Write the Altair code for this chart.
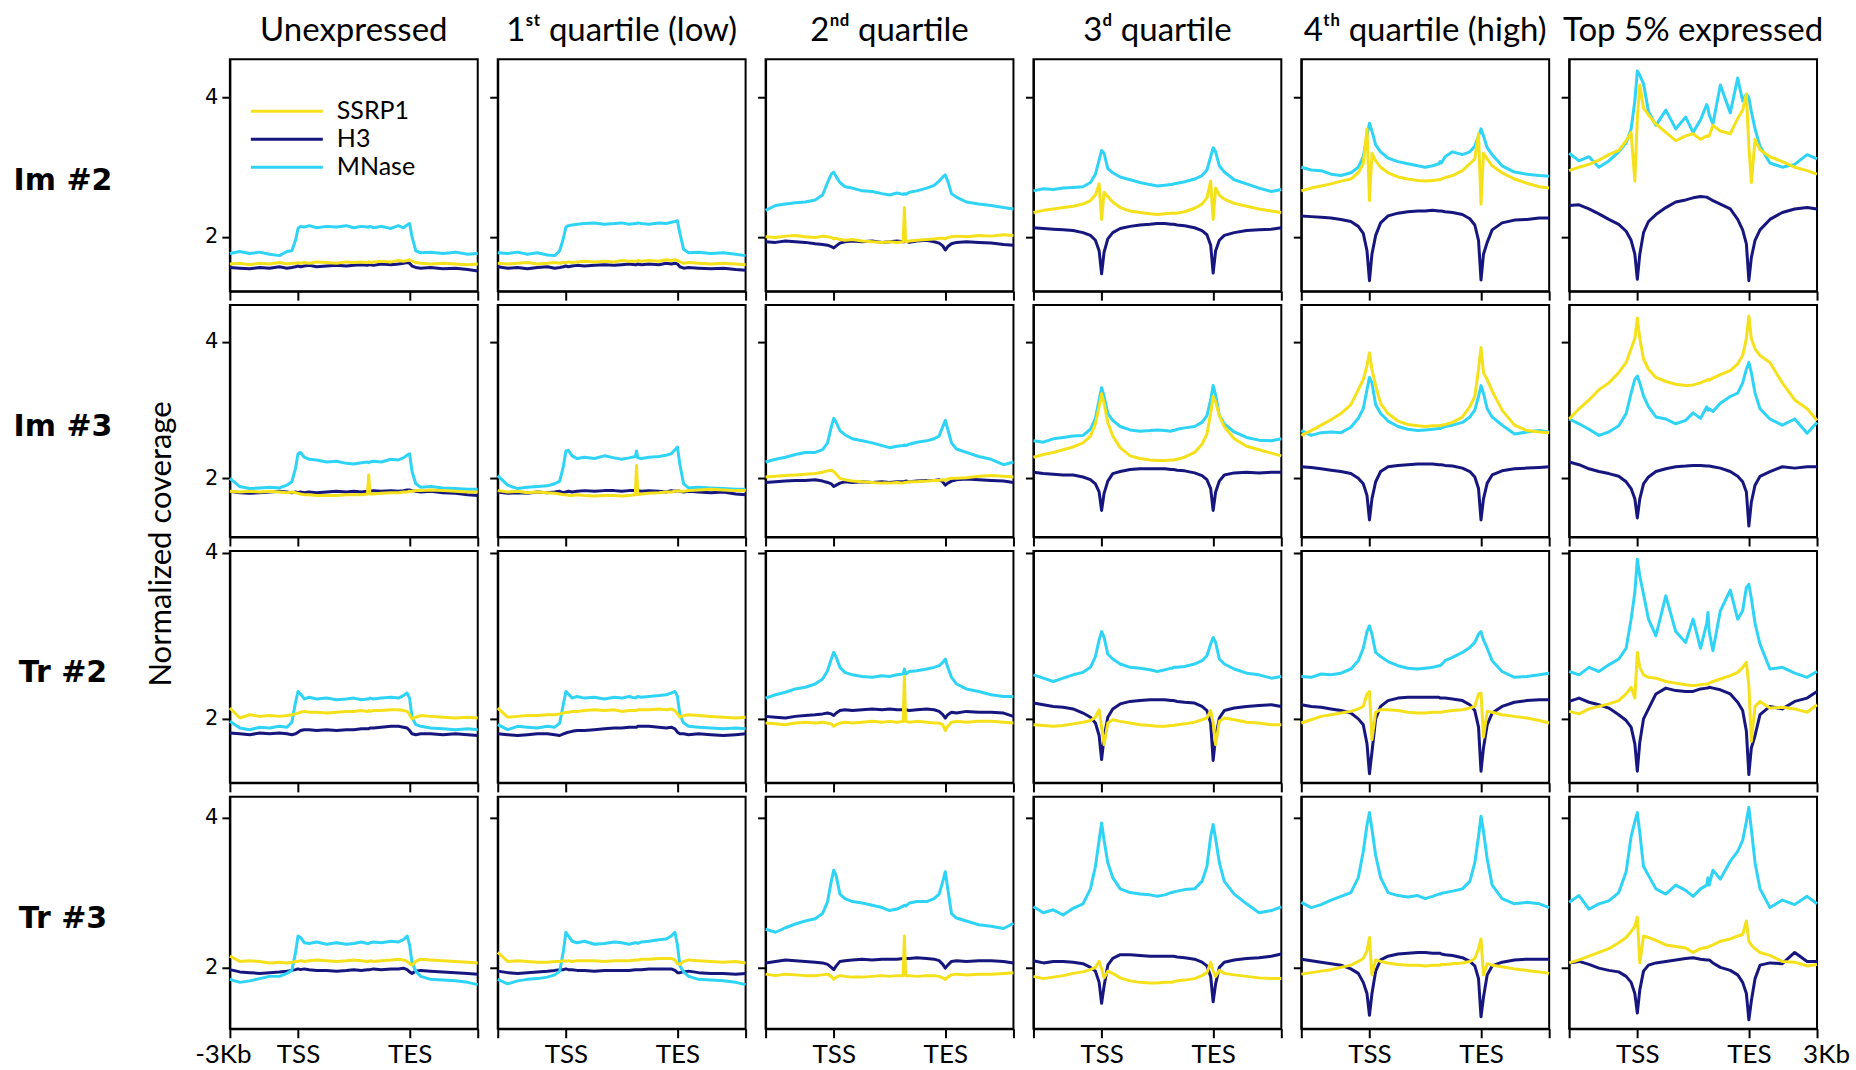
import altair as alt
import pandas as pd

# Metagene position grid: 0 = -3 kb, 27.5 = TSS, 72.5 = TES, 100 = +3 kb
X = [0, 4, 8, 12, 16, 20, 23, 25, 26.5, 27.5, 28.5, 30, 32, 35, 39, 43, 47, 50, 53,
     55.5, 56, 56.5, 58, 61, 65, 68, 70, 71.5, 72.5, 73.5, 75, 77, 81, 86, 91, 96, 100]
TSS, TES = 27.5, 72.5

COLUMNS = ["Unexpressed", "1ˢᵗ quartile (low)", "2ⁿᵈ quartile", "3ᵈ quartile",
           "4ᵗʰ quartile (high)", "Top 5% expressed"]
ROWS = ["Im #2", "Im #3", "Tr #2", "Tr #3"]
SERIES = ["SSRP1", "H3", "MNase"]
COLORS = {"SSRP1": "#F5E11B", "H3": "#16167E", "MNase": "#2FD3F5"}
Y_DOMAINS = [[1.22, 4.55], [1.14, 4.54], [1.23, 4.02], [1.18, 4.28]]

# ---- Im #2 -----------------------------------------------------------------
IM2_SSRP1 = [
    [1.61, 1.62, 1.60, 1.62, 1.61, 1.63, 1.61, 1.62, 1.62, 1.63, 1.62, 1.63, 1.62, 1.64, 1.63, 1.62, 1.64, 1.63, 1.64,
     1.63, 1.64, 1.63, 1.64, 1.65, 1.64, 1.66, 1.65, 1.66, 1.67, 1.65, 1.63, 1.62, 1.61, 1.62, 1.61, 1.60, 1.61],
    [1.62, 1.61, 1.62, 1.63, 1.61, 1.62, 1.63, 1.62, 1.63, 1.63, 1.64, 1.63, 1.64, 1.65, 1.64, 1.65, 1.64, 1.66, 1.65,
     1.65, 1.65, 1.66, 1.65, 1.66, 1.65, 1.67, 1.66, 1.67, 1.66, 1.64, 1.62, 1.63, 1.62, 1.61, 1.62, 1.61, 1.60],
    [2.00, 1.99, 2.01, 2.02, 2.00, 1.99, 2.01, 2.00, 1.99, 1.97, 1.98, 1.96, 1.95, 1.96, 1.94, 1.93, 1.92, 1.93, 1.92,
     1.93, 2.42, 1.93, 1.94, 1.95, 1.96, 1.97, 1.98, 1.98, 1.97, 1.99, 2.00, 2.01, 2.00, 2.02, 2.01, 2.03, 2.02],
    [2.35, 2.38, 2.40, 2.42, 2.44, 2.47, 2.52, 2.60, 2.76, 2.25, 2.64, 2.58, 2.50, 2.42, 2.37, 2.35, 2.33, 2.32, 2.33,
     2.34, 2.34, 2.34, 2.34, 2.36, 2.41, 2.47, 2.56, 2.80, 2.25, 2.70, 2.60, 2.54, 2.48, 2.44, 2.40, 2.37, 2.35],
    [2.66, 2.70, 2.73, 2.76, 2.80, 2.83, 2.92, 3.05, 3.55, 2.52, 3.20, 3.09, 3.00, 2.92, 2.86, 2.83, 2.81, 2.80, 2.81,
     2.82, 2.82, 2.83, 2.85, 2.88, 2.95, 3.05, 3.12, 3.48, 2.47, 3.20, 3.12, 3.02, 2.92, 2.83, 2.77, 2.72, 2.70],
    [2.95, 3.00, 3.04, 3.10, 3.18, 3.24, 3.38, 3.50, 2.80, 3.70, 4.18, 3.85, 3.75, 3.62, 3.50, 3.38, 3.45, 3.48, 3.40,
     3.45, 3.44, 3.45, 3.60, 3.52, 3.48, 3.70, 3.82, 4.05, 3.30, 2.78, 3.40, 3.25, 3.15, 3.08, 3.00, 2.95, 2.90],
]
IM2_H3 = [
    [1.56, 1.55, 1.54, 1.56, 1.55, 1.57, 1.55, 1.56, 1.57, 1.58, 1.57, 1.58, 1.59, 1.57, 1.58, 1.59, 1.58, 1.59, 1.60,
     1.59, 1.60, 1.60, 1.59, 1.61, 1.60, 1.61, 1.62, 1.63, 1.62, 1.58, 1.56, 1.55, 1.56, 1.54, 1.55, 1.53, 1.51],
    [1.57, 1.55, 1.56, 1.54, 1.56, 1.57, 1.55, 1.56, 1.57, 1.58, 1.57, 1.58, 1.59, 1.58, 1.59, 1.60, 1.59, 1.60, 1.61,
     1.60, 1.60, 1.61, 1.60, 1.61, 1.60, 1.62, 1.61, 1.62, 1.61, 1.57, 1.55, 1.56, 1.55, 1.54, 1.55, 1.53, 1.52],
    [1.93, 1.92, 1.94, 1.93, 1.92, 1.90, 1.89, 1.88, 1.86, 1.84, 1.87, 1.91, 1.93, 1.94, 1.93, 1.94, 1.92, 1.93, 1.94,
     1.93, 1.93, 1.94, 1.92, 1.94, 1.95, 1.93, 1.91, 1.87, 1.81, 1.86, 1.90, 1.92, 1.93, 1.92, 1.91, 1.89, 1.88],
    [2.13, 2.12, 2.11, 2.10, 2.09, 2.06, 2.02, 1.95, 1.80, 1.47, 1.78, 1.97, 2.06, 2.12, 2.15, 2.17, 2.18, 2.19, 2.19,
     2.18, 2.18, 2.18, 2.17, 2.16, 2.13, 2.09, 2.03, 1.88, 1.48, 1.80, 1.95, 2.02, 2.06, 2.09, 2.10, 2.11, 2.13],
    [2.30, 2.29, 2.28, 2.27, 2.25, 2.22, 2.15, 2.05, 1.80, 1.37, 1.75, 2.02, 2.20, 2.30, 2.34, 2.36, 2.37, 2.37, 2.38,
     2.37, 2.37, 2.37, 2.36, 2.35, 2.32, 2.26, 2.17, 1.95, 1.38, 1.75, 1.92, 2.10, 2.20, 2.24, 2.25, 2.27, 2.27],
    [2.45, 2.46, 2.40, 2.33, 2.25, 2.18, 2.08, 1.95, 1.75, 1.39, 1.75, 2.06, 2.22, 2.32, 2.42, 2.50, 2.53, 2.56, 2.58,
     2.57, 2.56, 2.55, 2.52, 2.47, 2.40, 2.25, 2.10, 1.90, 1.37, 1.70, 1.95, 2.10, 2.25, 2.35, 2.40, 2.42, 2.40],
]
IM2_MNASE = [
    [1.76, 1.79, 1.76, 1.78, 1.75, 1.73, 1.79, 1.80, 1.95, 2.12, 2.15, 2.14, 2.16, 2.13, 2.15, 2.14, 2.16, 2.13, 2.15,
     2.14, 2.14, 2.15, 2.13, 2.15, 2.12, 2.16, 2.13, 2.17, 2.19, 2.00, 1.80, 1.77, 1.78, 1.76, 1.78, 1.75, 1.76],
    [1.77, 1.76, 1.78, 1.75, 1.77, 1.74, 1.73, 1.80, 1.98, 2.14, 2.16, 2.17, 2.18, 2.19, 2.20, 2.18, 2.19, 2.20, 2.18,
     2.19, 2.19, 2.20, 2.19, 2.18, 2.20, 2.19, 2.21, 2.22, 2.23, 2.05, 1.82, 1.77, 1.78, 1.76, 1.77, 1.75, 1.73],
    [2.38, 2.45, 2.47, 2.49, 2.50, 2.53, 2.60, 2.78, 2.90, 2.93, 2.86, 2.78, 2.72, 2.70, 2.66, 2.65, 2.62, 2.60, 2.63,
     2.61, 2.62, 2.61, 2.64, 2.66, 2.70, 2.74, 2.80, 2.86, 2.89, 2.80, 2.62, 2.57, 2.50, 2.47, 2.45, 2.42, 2.40],
    [2.66, 2.69, 2.68, 2.70, 2.71, 2.72, 2.78, 2.90, 3.10, 3.24, 3.20, 2.98, 2.92, 2.86, 2.82, 2.78, 2.75, 2.73, 2.74,
     2.75, 2.75, 2.76, 2.77, 2.79, 2.83, 2.88, 2.96, 3.15, 3.28, 3.22, 3.02, 2.93, 2.82, 2.76, 2.70, 2.65, 2.68],
    [3.00, 2.96, 2.95, 2.90, 2.88, 2.92, 3.00, 3.15, 3.45, 3.63, 3.52, 3.32, 3.22, 3.13, 3.08, 3.05, 3.02, 3.00, 3.02,
     3.05, 3.08, 3.06, 3.15, 3.22, 3.18, 3.22, 3.30, 3.45, 3.55, 3.45, 3.28, 3.18, 3.02, 2.93, 2.90, 2.88, 2.87],
    [3.20, 3.09, 3.15, 3.00, 3.09, 3.22, 3.35, 3.55, 3.95, 4.38, 4.32, 4.20, 3.80, 3.60, 3.82, 3.55, 3.72, 3.50, 3.68,
     3.90, 3.85, 3.75, 3.62, 4.18, 3.78, 4.28, 3.95, 4.05, 4.00, 3.80, 3.55, 3.30, 3.06, 3.00, 3.04, 3.18, 3.12],
]

# ---- Im #3 -----------------------------------------------------------------
IM3_SSRP1 = [
    [1.81, 1.80, 1.81, 1.80, 1.81, 1.80, 1.79, 1.80, 1.79, 1.78, 1.77, 1.76, 1.76, 1.75, 1.75, 1.75, 1.76, 1.76, 1.76,
     1.77, 2.05, 1.77, 1.77, 1.78, 1.79, 1.79, 1.80, 1.80, 1.81, 1.81, 1.82, 1.82, 1.83, 1.82, 1.81, 1.80, 1.80],
    [1.82, 1.80, 1.81, 1.79, 1.80, 1.79, 1.78, 1.77, 1.76, 1.76, 1.75, 1.75, 1.76, 1.75, 1.74, 1.75, 1.75, 1.74, 1.75,
     1.76, 2.19, 1.76, 1.77, 1.78, 1.79, 1.80, 1.80, 1.81, 1.82, 1.81, 1.81, 1.82, 1.83, 1.84, 1.83, 1.82, 1.82],
    [2.02, 2.03, 2.04, 2.05, 2.06, 2.07, 2.09, 2.11, 2.12, 2.10, 2.06, 2.00, 1.98, 1.96, 1.95, 1.94, 1.93, 1.93, 1.94,
     1.93, 1.94, 1.94, 1.95, 1.95, 1.96, 1.97, 1.97, 1.98, 1.97, 1.99, 2.00, 2.00, 2.01, 2.03, 2.04, 2.03, 2.02],
    [2.31, 2.35, 2.38, 2.42, 2.46, 2.52, 2.62, 2.80, 3.05, 3.24, 3.10, 2.82, 2.62, 2.45, 2.33, 2.29, 2.27, 2.26, 2.26,
     2.27, 2.27, 2.27, 2.28, 2.31, 2.38, 2.50, 2.65, 2.95, 3.20, 3.12, 2.92, 2.76, 2.58, 2.47, 2.42, 2.37, 2.33],
    [2.63, 2.70, 2.78, 2.86, 2.95, 3.08, 3.30, 3.45, 3.65, 3.84, 3.60, 3.36, 3.10, 2.95, 2.84, 2.79, 2.77, 2.76, 2.77,
     2.77, 2.77, 2.78, 2.79, 2.82, 2.90, 3.05, 3.20, 3.60, 3.92, 3.55, 3.45, 3.28, 3.00, 2.78, 2.70, 2.68, 2.67],
    [2.87, 3.02, 3.15, 3.30, 3.40, 3.55, 3.70, 3.90, 4.05, 4.35, 4.05, 3.75, 3.60, 3.48, 3.42, 3.38, 3.36, 3.37, 3.40,
     3.44, 3.45, 3.44, 3.47, 3.52, 3.58, 3.68, 3.80, 4.05, 4.38, 4.05, 3.90, 3.80, 3.70, 3.40, 3.15, 3.02, 2.85],
]
IM3_H3 = [
    [1.81, 1.79, 1.78, 1.79, 1.80, 1.81, 1.80, 1.79, 1.80, 1.79, 1.80, 1.79, 1.80, 1.79, 1.80, 1.81, 1.80, 1.81, 1.80,
     1.81, 1.81, 1.81, 1.82, 1.81, 1.82, 1.81, 1.82, 1.83, 1.83, 1.82, 1.81, 1.80, 1.81, 1.79, 1.78, 1.76, 1.75],
    [1.80, 1.78, 1.79, 1.78, 1.80, 1.79, 1.80, 1.81, 1.79, 1.80, 1.81, 1.80, 1.81, 1.82, 1.81, 1.82, 1.82, 1.81, 1.82,
     1.82, 1.82, 1.82, 1.81, 1.82, 1.81, 1.80, 1.82, 1.81, 1.82, 1.81, 1.80, 1.81, 1.80, 1.79, 1.80, 1.77, 1.76],
    [1.94, 1.95, 1.96, 1.97, 1.97, 1.98, 1.96, 1.94, 1.92, 1.88, 1.90, 1.93, 1.95, 1.94, 1.95, 1.94, 1.95, 1.94, 1.95,
     1.95, 1.95, 1.96, 1.95, 1.96, 1.97, 1.97, 1.98, 1.95, 1.90, 1.93, 1.96, 1.98, 1.99, 1.98, 1.97, 1.96, 1.94],
    [2.09, 2.07, 2.06, 2.05, 2.05, 2.02, 1.98, 1.92, 1.80, 1.53, 1.78, 1.96, 2.07, 2.10, 2.13, 2.14, 2.14, 2.14, 2.14,
     2.13, 2.13, 2.13, 2.12, 2.11, 2.08, 2.04, 1.98, 1.85, 1.53, 1.80, 1.96, 2.05, 2.08, 2.09, 2.08, 2.09, 2.09],
    [2.17, 2.16, 2.14, 2.12, 2.10, 2.07, 2.00, 1.92, 1.75, 1.39, 1.70, 1.95, 2.10, 2.17, 2.19, 2.20, 2.21, 2.21, 2.21,
     2.20, 2.20, 2.20, 2.19, 2.18, 2.15, 2.10, 2.02, 1.85, 1.39, 1.70, 1.93, 2.05, 2.11, 2.14, 2.15, 2.16, 2.17],
    [2.24, 2.20, 2.14, 2.10, 2.07, 2.03, 1.95, 1.85, 1.70, 1.42, 1.70, 1.92, 2.02, 2.10, 2.14, 2.17, 2.18, 2.19, 2.19,
     2.18, 2.18, 2.18, 2.17, 2.15, 2.10, 2.03, 1.95, 1.80, 1.30, 1.65, 1.90, 2.03, 2.10, 2.17, 2.15, 2.17, 2.17],
]
IM3_MNASE = [
    [2.00, 1.88, 1.85, 1.86, 1.87, 1.86, 1.90, 1.95, 2.15, 2.36, 2.38, 2.31, 2.28, 2.27, 2.24, 2.25, 2.22, 2.21, 2.23,
     2.24, 2.23, 2.24, 2.25, 2.24, 2.28, 2.27, 2.30, 2.34, 2.36, 2.10, 1.92, 1.87, 1.88, 1.86, 1.85, 1.84, 1.84],
    [2.04, 1.90, 1.85, 1.87, 1.88, 1.89, 1.92, 1.96, 2.18, 2.40, 2.41, 2.33, 2.29, 2.31, 2.29, 2.33, 2.30, 2.28, 2.30,
     2.32, 2.40, 2.30, 2.29, 2.31, 2.32, 2.34, 2.36, 2.42, 2.46, 2.20, 1.92, 1.86, 1.87, 1.86, 1.85, 1.84, 1.84],
    [2.24, 2.28, 2.31, 2.35, 2.38, 2.38, 2.42, 2.52, 2.75, 2.88, 2.82, 2.70, 2.64, 2.58, 2.55, 2.52, 2.48, 2.45, 2.47,
     2.48, 2.49, 2.48, 2.50, 2.53, 2.55, 2.58, 2.62, 2.76, 2.85, 2.72, 2.52, 2.43, 2.38, 2.32, 2.28, 2.20, 2.24],
    [2.55, 2.53, 2.58, 2.60, 2.62, 2.63, 2.72, 2.88, 3.15, 3.33, 3.20, 2.95, 2.85, 2.76, 2.71, 2.69, 2.70, 2.71, 2.70,
     2.69, 2.70, 2.70, 2.72, 2.74, 2.76, 2.82, 2.92, 3.15, 3.36, 3.22, 2.92, 2.80, 2.68, 2.60, 2.56, 2.55, 2.58],
    [2.70, 2.63, 2.67, 2.68, 2.67, 2.75, 2.88, 3.02, 3.30, 3.48, 3.40, 3.08, 2.95, 2.84, 2.76, 2.72, 2.70, 2.71, 2.72,
     2.73, 2.73, 2.74, 2.76, 2.78, 2.82, 2.90, 3.00, 3.20, 3.36, 3.25, 3.02, 2.90, 2.78, 2.65, 2.68, 2.70, 2.68],
    [2.87, 2.80, 2.72, 2.63, 2.68, 2.77, 2.95, 3.25, 3.45, 3.50, 3.40, 3.21, 3.05, 2.90, 2.87, 2.80, 2.85, 2.96, 2.88,
     3.05, 3.00, 3.02, 2.98, 3.10, 3.20, 3.25, 3.40, 3.60, 3.70, 3.55, 3.25, 3.02, 2.87, 2.78, 2.87, 2.66, 2.82],
]

# ---- Tr #2 -----------------------------------------------------------------
TR2_SSRP1 = [
    [2.13, 2.01, 2.05, 2.03, 2.04, 2.03, 2.04, 2.05, 2.06, 2.07, 2.08, 2.09, 2.08, 2.08, 2.07, 2.08, 2.09, 2.09, 2.10,
     2.09, 2.10, 2.09, 2.10, 2.10, 2.11, 2.11, 2.10, 2.09, 2.05, 2.00, 2.02, 2.04, 2.03, 2.02, 2.01, 2.02, 2.01],
    [2.13, 2.02, 2.03, 2.04, 2.04, 2.05, 2.05, 2.06, 2.07, 2.08, 2.08, 2.09, 2.09, 2.10, 2.11, 2.10, 2.11, 2.09, 2.10,
     2.10, 2.10, 2.11, 2.11, 2.11, 2.12, 2.11, 2.12, 2.10, 2.06, 2.02, 2.04, 2.05, 2.04, 2.03, 2.02, 2.01, 2.02],
    [1.95, 1.94, 1.93, 1.95, 1.96, 1.95, 1.96, 1.95, 1.94, 1.91, 1.93, 1.95, 1.96, 1.95, 1.96, 1.97, 1.96, 1.97, 1.96,
     1.97, 2.51, 1.97, 1.96, 1.97, 1.96, 1.95, 1.95, 1.93, 1.86, 1.91, 1.96, 1.97, 1.96, 1.97, 1.97, 1.96, 1.95],
    [1.93, 1.92, 1.91, 1.92, 1.94, 1.96, 1.98, 2.02, 2.11, 1.90, 1.69, 1.95, 1.99, 1.97, 1.95, 1.93, 1.92, 1.91, 1.91,
     1.92, 1.92, 1.92, 1.93, 1.94, 1.96, 1.99, 2.01, 2.10, 1.95, 1.69, 1.97, 2.01, 1.99, 1.96, 1.95, 1.93, 1.93],
    [1.95, 1.99, 2.03, 2.05, 2.07, 2.09, 2.12, 2.15, 2.30, 2.33, 1.75, 2.08, 2.11, 2.11, 2.10, 2.08, 2.07, 2.07, 2.08,
     2.08, 2.08, 2.08, 2.09, 2.10, 2.11, 2.13, 2.15, 2.30, 2.31, 1.78, 2.09, 2.08, 2.05, 2.03, 2.01, 1.98, 1.95],
    [2.09, 2.06, 2.12, 2.15, 2.18, 2.22, 2.30, 2.38, 2.25, 2.80, 2.62, 2.53, 2.50, 2.49, 2.45, 2.43, 2.41, 2.40, 2.41,
     2.42, 2.42, 2.43, 2.45, 2.48, 2.52, 2.56, 2.62, 2.68, 2.40, 1.73, 2.15, 2.21, 2.13, 2.14, 2.12, 2.08, 2.17],
]
TR2_H3 = [
    [1.83, 1.82, 1.81, 1.83, 1.82, 1.83, 1.82, 1.81, 1.82, 1.84, 1.86, 1.87, 1.87, 1.86, 1.87, 1.86, 1.87, 1.87, 1.88,
     1.88, 1.88, 1.89, 1.89, 1.90, 1.91, 1.91, 1.90, 1.89, 1.86, 1.82, 1.81, 1.82, 1.82, 1.81, 1.82, 1.81, 1.80],
    [1.82, 1.81, 1.80, 1.81, 1.82, 1.82, 1.81, 1.80, 1.82, 1.83, 1.84, 1.85, 1.86, 1.86, 1.87, 1.88, 1.89, 1.89, 1.90,
     1.90, 1.90, 1.91, 1.91, 1.91, 1.90, 1.89, 1.90, 1.88, 1.84, 1.82, 1.82, 1.81, 1.82, 1.81, 1.80, 1.81, 1.82],
    [2.03, 2.02, 2.01, 2.03, 2.04, 2.05, 2.06, 2.07, 2.06, 2.04, 2.07, 2.10, 2.11, 2.10, 2.11, 2.12, 2.11, 2.12, 2.11,
     2.11, 2.11, 2.11, 2.10, 2.11, 2.12, 2.11, 2.09, 2.05, 2.01, 2.05, 2.08, 2.07, 2.09, 2.08, 2.08, 2.07, 2.03],
    [2.19, 2.17, 2.15, 2.14, 2.12, 2.07, 2.02, 1.95, 1.80, 1.51, 1.78, 2.02, 2.12, 2.18, 2.21, 2.22, 2.23, 2.23, 2.23,
     2.22, 2.22, 2.22, 2.21, 2.20, 2.19, 2.15, 2.10, 1.95, 1.50, 1.78, 2.01, 2.10, 2.13, 2.15, 2.16, 2.17, 2.15],
    [2.17, 2.15, 2.14, 2.12, 2.10, 2.07, 2.00, 1.93, 1.70, 1.34, 1.60, 2.00, 2.15, 2.22, 2.25, 2.26, 2.26, 2.26, 2.26,
     2.26, 2.25, 2.25, 2.25, 2.24, 2.22, 2.17, 2.10, 1.90, 1.37, 1.65, 1.93, 2.07, 2.15, 2.20, 2.22, 2.23, 2.23],
    [2.21, 2.25, 2.20, 2.17, 2.13, 2.05, 1.98, 1.90, 1.70, 1.37, 1.72, 2.00, 2.12, 2.30, 2.37, 2.34, 2.33, 2.33, 2.36,
     2.37, 2.37, 2.38, 2.37, 2.35, 2.30, 2.20, 2.10, 1.85, 1.33, 1.65, 1.80, 2.05, 2.15, 2.12, 2.21, 2.25, 2.33],
]
TR2_MNASE = [
    [1.97, 1.89, 1.87, 1.90, 1.89, 1.91, 1.90, 1.96, 2.20, 2.33, 2.30, 2.24, 2.26, 2.24, 2.25, 2.23, 2.24, 2.25, 2.23,
     2.24, 2.24, 2.25, 2.24, 2.25, 2.26, 2.25, 2.28, 2.31, 2.25, 2.02, 1.93, 1.91, 1.89, 1.88, 1.87, 1.88, 1.87],
    [1.93, 1.87, 1.91, 1.90, 1.89, 1.91, 1.90, 1.95, 2.18, 2.33, 2.30, 2.25, 2.27, 2.25, 2.26, 2.24, 2.26, 2.25, 2.27,
     2.25, 2.26, 2.27, 2.26, 2.27, 2.28, 2.29, 2.31, 2.33, 2.27, 2.05, 1.95, 1.91, 1.90, 1.89, 1.88, 1.89, 1.88],
    [2.25, 2.29, 2.32, 2.36, 2.38, 2.42, 2.48, 2.58, 2.72, 2.80, 2.74, 2.62, 2.56, 2.53, 2.51, 2.50, 2.52, 2.51, 2.53,
     2.54, 2.60, 2.54, 2.57, 2.58, 2.60, 2.62, 2.64, 2.68, 2.72, 2.62, 2.50, 2.42, 2.36, 2.33, 2.29, 2.27, 2.27],
    [2.53, 2.49, 2.45, 2.49, 2.53, 2.56, 2.62, 2.75, 2.95, 3.05, 2.98, 2.78, 2.72, 2.66, 2.62, 2.61, 2.59, 2.57, 2.59,
     2.61, 2.61, 2.62, 2.62, 2.63, 2.66, 2.70, 2.76, 2.90, 2.98, 2.92, 2.72, 2.66, 2.60, 2.55, 2.53, 2.49, 2.51],
    [2.51, 2.50, 2.54, 2.53, 2.55, 2.60, 2.70, 2.85, 3.05, 3.12, 3.02, 2.80, 2.75, 2.69, 2.64, 2.61, 2.60, 2.61, 2.62,
     2.64, 2.64, 2.65, 2.70, 2.74, 2.80, 2.86, 2.92, 3.02, 3.05, 2.95, 2.85, 2.70, 2.57, 2.50, 2.51, 2.53, 2.55],
    [2.57, 2.53, 2.62, 2.57, 2.65, 2.72, 2.85, 3.20, 3.52, 3.92, 3.72, 3.50, 3.20, 3.00, 3.48, 3.05, 2.92, 3.20, 2.85,
     3.15, 3.28, 3.05, 2.82, 3.30, 3.55, 3.20, 3.30, 3.58, 3.62, 3.45, 3.15, 2.90, 2.60, 2.62, 2.55, 2.50, 2.57],
]

# ---- Tr #3 -----------------------------------------------------------------
TR3_SSRP1 = [
    [2.15, 2.08, 2.09, 2.08, 2.06, 2.07, 2.06, 2.07, 2.08, 2.08, 2.09, 2.08, 2.09, 2.10, 2.09, 2.08, 2.09, 2.10, 2.09,
     2.08, 2.08, 2.09, 2.08, 2.09, 2.10, 2.11, 2.10, 2.08, 2.05, 2.03, 2.08, 2.11, 2.10, 2.09, 2.08, 2.07, 2.06],
    [2.20, 2.08, 2.09, 2.08, 2.07, 2.07, 2.08, 2.08, 2.09, 2.08, 2.09, 2.08, 2.09, 2.09, 2.09, 2.08, 2.09, 2.09, 2.09,
     2.10, 2.10, 2.10, 2.11, 2.11, 2.12, 2.12, 2.12, 2.10, 2.05, 2.04, 2.08, 2.10, 2.09, 2.08, 2.07, 2.08, 2.06],
    [1.91, 1.89, 1.91, 1.90, 1.89, 1.89, 1.90, 1.91, 1.88, 1.84, 1.87, 1.89, 1.88, 1.87, 1.87, 1.88, 1.89, 1.88, 1.89,
     1.89, 2.42, 1.89, 1.89, 1.88, 1.89, 1.89, 1.88, 1.86, 1.84, 1.87, 1.90, 1.91, 1.90, 1.91, 1.91, 1.92, 1.93],
    [1.88, 1.85, 1.87, 1.89, 1.92, 1.94, 1.97, 2.00, 2.08, 1.98, 1.86, 1.95, 1.92, 1.86, 1.82, 1.80, 1.79, 1.79, 1.80,
     1.80, 1.80, 1.81, 1.82, 1.83, 1.85, 1.89, 1.93, 2.07, 1.95, 1.88, 1.96, 1.92, 1.90, 1.88, 1.86, 1.85, 1.85],
    [1.91, 1.93, 1.95, 1.97, 2.00, 2.03, 2.08, 2.12, 2.22, 2.40, 1.90, 2.10, 2.08, 2.06, 2.04, 2.03, 2.03, 2.02, 2.03,
     2.03, 2.03, 2.04, 2.04, 2.05, 2.06, 2.08, 2.12, 2.25, 2.38, 1.90, 2.05, 2.03, 2.01, 1.98, 1.96, 1.94, 1.92],
    [2.06, 2.10, 2.15, 2.20, 2.25, 2.33, 2.40, 2.48, 2.55, 2.67, 2.06, 2.42, 2.40, 2.36, 2.30, 2.28, 2.26, 2.20, 2.25,
     2.27, 2.27, 2.28, 2.30, 2.35, 2.38, 2.42, 2.44, 2.62, 2.35, 2.30, 2.25, 2.20, 2.16, 2.08, 2.07, 2.02, 2.04],
]
TR3_H3 = [
    [1.97, 1.94, 1.93, 1.92, 1.93, 1.94, 1.95, 1.96, 1.97, 1.98, 1.97, 1.98, 1.97, 1.96, 1.96, 1.95, 1.96, 1.97, 1.96,
     1.97, 1.97, 1.97, 1.98, 1.97, 1.98, 1.98, 1.99, 1.97, 1.94, 1.92, 1.95, 1.96, 1.95, 1.94, 1.93, 1.92, 1.91],
    [1.95, 1.93, 1.92, 1.93, 1.94, 1.95, 1.96, 1.97, 1.97, 1.98, 1.97, 1.97, 1.96, 1.96, 1.95, 1.96, 1.96, 1.96, 1.96,
     1.97, 1.97, 1.97, 1.97, 1.98, 1.98, 1.98, 1.98, 1.96, 1.93, 1.93, 1.94, 1.95, 1.93, 1.92, 1.92, 1.91, 1.92],
    [2.06, 2.08, 2.10, 2.09, 2.08, 2.07, 2.06, 2.04, 2.00, 1.97, 2.02, 2.08, 2.09, 2.10, 2.11, 2.10, 2.11, 2.11, 2.11,
     2.12, 2.12, 2.12, 2.12, 2.13, 2.12, 2.11, 2.09, 2.04, 1.99, 2.03, 2.08, 2.09, 2.08, 2.09, 2.09, 2.08, 2.06],
    [2.09, 2.06, 2.08, 2.08, 2.07, 2.05, 2.00, 1.95, 1.80, 1.52, 1.75, 2.03, 2.12, 2.17, 2.17, 2.16, 2.15, 2.15, 2.15,
     2.15, 2.15, 2.15, 2.14, 2.13, 2.11, 2.07, 2.02, 1.88, 1.54, 1.78, 2.00, 2.07, 2.10, 2.12, 2.13, 2.15, 2.18],
    [2.11, 2.09, 2.07, 2.05, 2.03, 1.98, 1.92, 1.80, 1.65, 1.36, 1.65, 1.95, 2.10, 2.15, 2.18, 2.19, 2.20, 2.20, 2.19,
     2.19, 2.19, 2.18, 2.17, 2.16, 2.13, 2.08, 2.02, 1.85, 1.34, 1.60, 1.90, 2.02, 2.07, 2.10, 2.11, 2.11, 2.11],
    [2.06, 2.08, 2.04, 1.99, 1.96, 1.94, 1.88, 1.80, 1.65, 1.39, 1.70, 1.95, 2.03, 2.06, 2.08, 2.10, 2.12, 2.13, 2.11,
     2.10, 2.10, 2.10, 2.06, 2.00, 1.96, 1.90, 1.80, 1.65, 1.30, 1.55, 1.85, 2.03, 2.06, 2.05, 2.20, 2.08, 2.08],
]
TR3_MNASE = [
    [1.84, 1.80, 1.82, 1.85, 1.88, 1.88, 1.92, 1.96, 2.20, 2.42, 2.40, 2.33, 2.32, 2.34, 2.31, 2.33, 2.31, 2.32, 2.34,
     2.32, 2.32, 2.33, 2.34, 2.33, 2.35, 2.34, 2.37, 2.42, 2.30, 2.06, 1.95, 1.88, 1.84, 1.83, 1.82, 1.80, 1.77],
    [1.84, 1.78, 1.82, 1.84, 1.85, 1.87, 1.90, 1.95, 2.22, 2.47, 2.42, 2.35, 2.33, 2.35, 2.31, 2.32, 2.34, 2.33, 2.31,
     2.33, 2.33, 2.32, 2.34, 2.35, 2.37, 2.38, 2.42, 2.47, 2.30, 2.02, 1.94, 1.88, 1.84, 1.83, 1.82, 1.80, 1.77],
    [2.51, 2.47, 2.53, 2.58, 2.62, 2.65, 2.72, 2.88, 3.15, 3.30, 3.22, 2.98, 2.92, 2.88, 2.86, 2.83, 2.80, 2.76, 2.78,
     2.82, 2.83, 2.82, 2.86, 2.88, 2.88, 2.92, 2.98, 3.15, 3.28, 3.05, 2.72, 2.66, 2.62, 2.57, 2.55, 2.52, 2.59],
    [2.81, 2.73, 2.77, 2.70, 2.79, 2.85, 3.05, 3.35, 3.70, 3.93, 3.70, 3.40, 3.20, 3.05, 3.00, 2.98, 2.97, 2.95, 2.97,
     3.00, 3.00, 3.01, 3.02, 3.04, 3.05, 3.15, 3.35, 3.75, 3.91, 3.72, 3.40, 3.15, 2.98, 2.85, 2.73, 2.76, 2.81],
    [2.87, 2.80, 2.84, 2.90, 2.95, 3.00, 3.20, 3.55, 3.90, 4.07, 3.85, 3.50, 3.20, 3.00, 2.96, 2.94, 2.96, 2.92, 2.95,
     2.98, 2.98, 2.99, 3.00, 3.02, 3.05, 3.15, 3.40, 3.75, 4.02, 3.82, 3.45, 3.10, 2.92, 2.85, 2.87, 2.85, 2.80],
    [2.87, 2.96, 2.78, 2.85, 2.89, 3.00, 3.28, 3.75, 3.95, 4.07, 3.80, 3.35, 3.23, 3.05, 2.98, 3.10, 3.03, 2.95, 3.05,
     3.10, 3.20, 3.10, 3.30, 3.18, 3.42, 3.55, 3.70, 3.95, 4.14, 3.85, 3.40, 3.05, 2.80, 2.90, 2.84, 2.95, 2.85],
]

PROFILES = {
    "Im #2": {"SSRP1": IM2_SSRP1, "H3": IM2_H3, "MNase": IM2_MNASE},
    "Im #3": {"SSRP1": IM3_SSRP1, "H3": IM3_H3, "MNase": IM3_MNASE},
    "Tr #2": {"SSRP1": TR2_SSRP1, "H3": TR2_H3, "MNase": TR2_MNASE},
    "Tr #3": {"SSRP1": TR3_SSRP1, "H3": TR3_H3, "MNase": TR3_MNASE},
}

for rname, block in PROFILES.items():
    for sname, cols in block.items():
        for ci, vals in enumerate(cols):
            assert len(vals) == len(X), f"{rname} {sname} col {ci}: {len(vals)}"

W, H = 248, 232
LINE_W = 3.0
TITLE_FONT = "Lato"


def x_label_expr(ci):
    left = "-3Kb" if ci == 0 else ""
    right = "3Kb" if ci == len(COLUMNS) - 1 else ""
    return (f"datum.value == {TSS} ? 'TSS' : datum.value == {TES} ? 'TES' : "
            f"datum.value == 0 ? '{left}' : '{right}'")


def x_label_offset(ci):
    # the outer "-3Kb" / "3Kb" labels sit slightly outside the panel edges
    if ci == 0:
        return {"condition": {"test": "datum.value == 0", "value": -7}, "value": 0}
    if ci == len(COLUMNS) - 1:
        return {"condition": {"test": "datum.value == 100", "value": 9}, "value": 0}
    return 0


def panel(ri, ci):
    rname = ROWS[ri]
    x_axis = alt.Axis(values=[0, TSS, TES, 100], labels=(ri == len(ROWS) - 1),
                      labelExpr=x_label_expr(ci), labelFlush=False, labelOverlap=False,
                      labelOffset=x_label_offset(ci),
                      labelFont="Lato", labelFontSize=26, labelColor="black",
                      labelPadding=4, tickSize=9, tickWidth=2, tickColor="black",
                      domainColor="black", domainWidth=2, grid=False, title=None)
    y_axis = alt.Axis(values=[2, 4], labels=(ci == 0), format="d",
                      labelFont="DejaVu Sans", labelFontSize=21, labelColor="black",
                      labelPadding=4, tickSize=8, tickWidth=2, tickColor="black",
                      domainColor="black", domainWidth=2, grid=False, title=None)
    xs = alt.X("x:Q", scale=alt.Scale(domain=[0, 100], nice=False, zero=False), axis=x_axis)
    ys = alt.Y("y:Q", scale=alt.Scale(domain=Y_DOMAINS[ri], nice=False, zero=False), axis=y_axis)

    layers = []
    for s in ["H3", "MNase", "SSRP1"]:
        df = pd.DataFrame({"x": X, "y": PROFILES[rname][s][ci]})
        layers.append(
            alt.Chart(df).mark_line(color=COLORS[s], strokeWidth=LINE_W,
                                    strokeJoin="round").encode(x=xs, y=ys)
        )

    one = pd.DataFrame({"k": [0]})
    if ci == 0:
        layers.append(
            alt.Chart(one).mark_text(text=rname, font="DejaVu Sans", fontWeight="bold",
                                     fontSize=30, color="black", align="center",
                                     baseline="middle")
            .encode(x=alt.value(-167), y=alt.value(H / 2 + 6))
        )
    if ri == 1 and ci == 0:
        layers.append(
            alt.Chart(one).mark_text(text="Normalized coverage", font=TITLE_FONT,
                                     fontSize=31, color="black", angle=270,
                                     align="center", baseline="middle")
            .encode(x=alt.value(-68), y=alt.value(H + 7))
        )
    if ri == 0 and ci == 0:
        for k, s in enumerate(SERIES):
            yy = 52 + 28 * k
            layers.append(
                alt.Chart(one).mark_rule(color=COLORS[s], strokeWidth=3)
                .encode(x=alt.value(21), x2=alt.value(93), y=alt.value(yy))
            )
            layers.append(
                alt.Chart(one).mark_text(text=s, font=TITLE_FONT, fontSize=25,
                                         color="black", align="left", baseline="middle")
                .encode(x=alt.value(107), y=alt.value(yy))
            )

    ch = alt.layer(*layers).properties(width=W, height=H)
    if ri == 0:
        ch = ch.properties(title=alt.TitleParams(COLUMNS[ci], font=TITLE_FONT, fontSize=33,
                                                 fontWeight="normal", color="black",
                                                 anchor="middle", offset=11))
    return ch


panels = [panel(r, c) for r in range(len(ROWS)) for c in range(len(COLUMNS))]

chart = (
    alt.concat(*panels, columns=len(COLUMNS))
    .properties(spacing={"row": 14, "column": 20}, bounds="flush",
                padding={"left": 12, "top": 14, "right": 5, "bottom": 2},
                background="white")
    .configure_view(stroke="black", strokeWidth=2)
)

chart.save("out.html", embed_options={"renderer": "svg", "actions": False})
